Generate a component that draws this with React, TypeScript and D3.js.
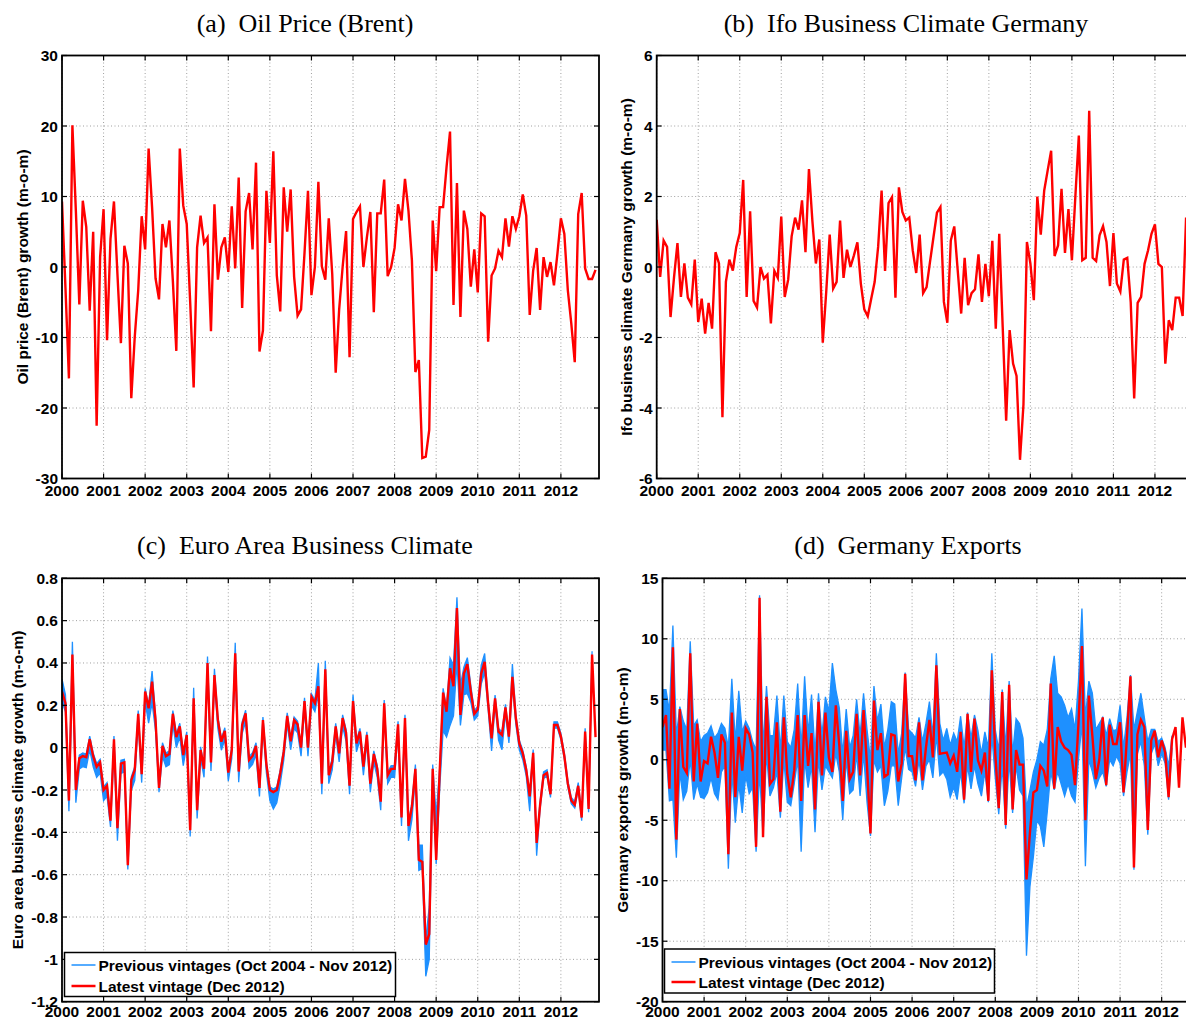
import React from 'react';
import * as d3 from 'd3';

// ---------- tick labels ----------
const yearTicks = [2000, 2001, 2002, 2003, 2004, 2005, 2006, 2007, 2008, 2009, 2010, 2011, 2012];
const oilTicks = [30, 20, 10, 0, -10, -20, -30];
const ifoTicks = [6, 4, 2, 0, -2, -4, -6];
const euroTicks = [0.8, 0.6, 0.4, 0.2, 0, -0.2, -0.4, -0.6, -0.8, -1, -1.2];
const exportsTicks = [15, 10, 5, 0, -5, -10, -15, -20];

// ---------- data (monthly, starting Jan 2000) ----------
const oilGrowth = [
  9.3, -3, -15.8, 20.1, 8, -5.3, 9.4, 5.7, -6.2, 5.0, -22.5, 1.4,
  8.2, -10.4, 4.0, 9.3, -1, -10.8, 3.0, 0.5, -18.6, -9.9, -3.3, 7.2,
  2.5, 16.8, 8.5, -1.6, -4.6, 6.1, 2.8, 6.6, -2, -11.9, 16.8, 8.7,
  6.1, -5, -17.1, 2.8, 7.3, 3.4, 4.2, -9.1, 8.9, -1.8, 2.8, 4.2,
  -0.7, 8.6, -0.2, 12.7, -5.8, 7.9, 10.5, 2.5, 14.8, -12.0, -9.0, 10.8,
  3.4, 16.4, -1.2, -6.3, 11.3, 5.0, 11.0, -1.4, -6.9, -6.0, 2, 10.8,
  -4.0, 0, 12.1, 0.1, -1.8, 6.9, -1, -15.0, -6, 0, 5.1, -12.8,
  6.8, 7.8, 8.6, 0, 4.2, 7.8, -6.4, 7.6, 7.6, 12.4, -1.3, 0.0,
  2.7, 8.9, 6.6, 12.5, 8.0, 0.9, -14.9, -13.2, -27.1, -26.9, -23.1, 6.6,
  -0.6, 8.5, 8.5, 14.2, 19.2, -5.4, 11.9, -7.1, 8.0, 5.4, -2.8, 2.5,
  -3.6, 7.6, 7.2, -10.6, -1.2, -0.2, 2.3, 1.4, 6.9, 2.9, 7.2, 5.4,
  7.2, 10.3, 7.3, -6.8, -0.5, 2.7, -6.1, 1.4, -1.4, 0.7, -2.6, 1.9,
  6.9, 4.7, -3.3, -8.0, -13.5, 7.5, 10.5, -0.2, -1.7, -1.7, -0.4,
];

const ifoGrowth = [
  1.34, -0.28, 0.75, 0.57, -1.42, -0.3, 0.68, -0.85, 0.1, -0.87, -1.06, 0.21,
  -1.56, -0.9, -1.89, -1.02, -1.75, 0.42, 0.1, -4.26, -0.42, 0.21, -0.1, 0.57,
  0.96, 2.47, -0.85, 1.58, -0.96, -1.15, 0.0, -0.33, -0.22, -1.6, -0.11, -0.31,
  1.43, -0.85, -0.36, 0.87, 1.4, 1.06, 1.89, 0.42, 2.78, 1.3, 0.1, 0.78,
  -2.15, -0.7, 0.92, -0.61, -0.42, 1.32, -0.31, 0.49, 0.0, 0.33, 0.7, -0.47,
  -1.2, -1.4, -0.9, -0.42, 0.57, 2.17, -0.11, 1.81, 1.98, -0.87, 2.26, 1.56,
  1.32, 1.4, 0.47, -0.17, 0.92, -0.74, -0.57, 0.15, 0.85, 1.54, 1.7, -0.99,
  -1.58, 0.75, 1.15, -0.1, -1.32, 0.26, -1.08, -0.74, -0.63, 0.36, -0.99, 0.09,
  -0.83, 0.74, -1.75, 0.94, -1.7, -4.36, -1.79, -2.74, -3.09, -5.47, -3.9, 0.71,
  0.1, -0.94, 2.0, 0.92, 2.17, 2.74, 3.3, 0.31, 0.61, 2.22, 0.4, 1.64,
  0.19, 2.0, 3.73, 0.19, 0.26, 4.43, 0.26, 0.17, 0.9, 1.16, 0.71, -0.54,
  0.96, -0.47, -0.7, 0.21, 0.26, -1.0, -3.73, -1.02, -0.85, 0.09, 0.47, 0.94,
  1.21, 0.09, 0.0, -2.74, -1.51, -1.79, -0.87, -0.87, -1.39, 1.4, 0.9,
];

const euroLatest = [
  0.265, 0.21, -0.25, 0.44, -0.2, -0.05, -0.04, -0.045, 0.04, -0.04, -0.09, -0.07,
  -0.2, -0.18, -0.345, 0.04, -0.38, -0.075, -0.07, -0.555, -0.153, -0.105, 0.16, -0.125,
  0.265, 0.186, 0.312, 0.13, -0.19, 0.008, -0.04, -0.03, 0.16, 0.05, 0.1, -0.035,
  0.06, -0.39, 0.233, -0.295, -0.011, -0.1, 0.4, -0.07, 0.343, 0.13, 0.028, 0.079,
  -0.118, -0.011, 0.446, -0.113, 0.107, 0.162, -0.058, -0.039, 0.008, -0.19, 0.13, -0.08,
  -0.2, -0.21, -0.2, -0.12, -0.02, 0.15, 0.03, 0.13, 0.11, 0.0, 0.22, 0.0,
  0.24, 0.21, 0.29, -0.17, 0.37, -0.13, -0.065, 0.1, -0.027, 0.14, 0.07, -0.18,
  0.22, 0.02, 0.076, -0.09, 0.06, -0.17, -0.03, -0.1, -0.255, 0.21, -0.13, -0.1,
  -0.1, 0.11, -0.33, 0.14, -0.37, -0.28, -0.1, -0.53, -0.54, -0.93, -0.88, -0.1,
  -0.53, -0.12, 0.26, 0.17, 0.375, 0.29, 0.66, 0.155, 0.35, 0.395, 0.265, 0.16,
  0.18, 0.35, 0.405, 0.21, 0.044, 0.233, 0.076, 0.06, 0.19, 0.052, 0.335, 0.14,
  0.02, -0.027, -0.105, -0.23, -0.024, -0.45, -0.27, -0.13, -0.12, -0.22, 0.107, 0.107,
  0.052, -0.04, -0.17, -0.25, -0.27, -0.18, -0.33, 0.076, -0.29, 0.44, 0.05,
];

// spread of the previous vintages below / above the latest vintage
const euroVintBelow = [
  0.05, 0.04, 0.05, 0.10, 0.06, 0.05, 0.05, 0.05, 0.05, 0.05,
  0.05, 0.05, 0.05, 0.05, 0.03, 0.05, 0.06, 0.05, 0.04, 0.02,
  0.05, 0.05, 0.04, 0.04, 0.05, 0.07, 0.10, 0.05, 0.02, 0.05,
  0.05, 0.05, 0.05, 0.05, 0.05, 0.05, 0.05, 0.03, 0.05, 0.04,
  0.04, 0.04, 0.04, 0.04, 0.04, 0.04, 0.04, 0.04, 0.04, 0.04,
  0.05, 0.05, 0.04, 0.04, 0.04, 0.04, 0.04, 0.04, 0.04, 0.04,
  0.05, 0.08, 0.06, 0.05, 0.04, 0.04, 0.04, 0.04, 0.04, 0.04,
  0.04, 0.04, 0.04, 0.04, 0.04, 0.05, 0.05, 0.04, 0.04, 0.04,
  0.04, 0.04, 0.04, 0.04, 0.04, 0.04, 0.04, 0.04, 0.04, 0.04,
  0.04, 0.04, 0.04, 0.04, 0.04, 0.04, 0.04, 0.04, 0.04, 0.04,
  0.07, 0.06, 0.04, 0.05, 0.03, 0.15, 0.12, 0.05, 0.02, 0.08,
  0.18, 0.12, 0.27, 0.14, 0.26, 0.05, 0.10, 0.14, 0.05, 0.03,
  0.03, 0.05, 0.05, 0.03, 0.06, 0.03, 0.04, 0.07, 0.03, 0.03,
  0.04, 0.03, 0.03, 0.03, 0.03, 0.07, 0.02, 0.06, 0.02, 0.015,
  0.015, 0.015, 0.015, 0.015, 0.015, 0.015, 0.015, 0.015, 0.015, 0.015,
  0.015, 0.015, 0.015, 0.015,
];
const euroVintAbove = [
  0.06, 0.04, 0.02, 0.06, 0.02, 0.015, 0.015, 0.015, 0.015, 0.015,
  0.015, 0.015, 0.015, 0.015, 0.015, 0.015, 0.015, 0.015, 0.015, 0.015,
  0.015, 0.015, 0.015, 0.015, 0.015, 0.015, 0.05, 0.02, 0.015, 0.015,
  0.015, 0.015, 0.015, 0.015, 0.015, 0.015, 0.015, 0.015, 0.05, 0.015,
  0.015, 0.015, 0.03, 0.015, 0.03, 0.015, 0.015, 0.015, 0.015, 0.015,
  0.05, 0.015, 0.015, 0.015, 0.015, 0.015, 0.015, 0.015, 0.015, 0.015,
  0.015, 0.015, 0.015, 0.015, 0.015, 0.015, 0.015, 0.015, 0.015, 0.015,
  0.015, 0.015, 0.015, 0.015, 0.11, 0.015, 0.04, 0.015, 0.015, 0.015,
  0.015, 0.015, 0.015, 0.015, 0.03, 0.015, 0.015, 0.015, 0.015, 0.015,
  0.015, 0.015, 0.015, 0.015, 0.015, 0.015, 0.015, 0.015, 0.015, 0.015,
  0.02, 0.02, 0.02, 0.07, 0.08, 0.02, 0.13, 0.02, 0.21, 0.02,
  0.02, 0.02, 0.05, 0.10, 0.05, 0.14, 0.03, 0.03, 0.03, 0.015,
  0.015, 0.04, 0.04, 0.015, 0.015, 0.015, 0.015, 0.015, 0.015, 0.015,
  0.06, 0.015, 0.015, 0.015, 0.015, 0.015, 0.015, 0.015, 0.015, 0.015,
  0.015, 0.015, 0.015, 0.015, 0.015, 0.015, 0.015, 0.015, 0.015, 0.015,
  0.015, 0.015, 0.015, 0.015,
];

const exportsLatest = [
  2.7, 3.7, -2.4, 9.3, -6.6, 4.2, -0.6, -1.1, 8.8, -1.8, 3.0, -1.8,
  -0.1, -0.3, 1.9, 0.6, -1.5, 2.1, 1.4, -7.8, 3.9, -3.1, 1.9, -0.9,
  2.6, 2.1, 0.6, -7.2, 13.4, -6.4, 5.2, -2.0, -1.6, 3.1, -4.3, 3.5,
  -1.2, -3.1, -0.9, 3.7, -3.4, 3.7, -0.5, 2.2, -4.1, 4.8, -1.3, 3.9,
  0.2, -1.0, 4.5, 1.2, -3.4, 2.4, -1.6, -1.0, 3.8, -1.3, 4.1, -0.5,
  -6.1, 4.9, 0.8, 2.2, -1.4, -1.2, 2.1, 2.0, -1.8, -0.3, 7.1, 0.3,
  0.3, -1.7, 3.1, -1.7, 1.0, 3.3, 0.2, 7.8, 0.5, 0.55, 0.6, -0.3,
  0.35, -1.0, 2.3, -3.3, 3.8, -1.0, 3.4, -0.05, -0.9, 0.6, -3.4, 7.4,
  0.5, -4.0, 5.6, -5.4, 6.2, -4.1, 0.8, -0.4, -0.4, -9.9, -6.0, -2.7,
  -2.5, -0.5, -0.9, -2.2, 6.3, -2.4, 2.7, 1.5, 1.0, 0.8, 0.4, -2.1,
  3.0, 9.4, -5.0, 5.3, 2.0, -1.6, 0.0, 3.5, -2.1, 2.9, 1.3, 1.3,
  3.1, -2.7, 2.0, 6.9, -8.9, 2.1, 3.3, 2.7, -5.8, 1.6, 2.4, 0.2,
  1.6, 0.6, -3.1, 1.7, 2.7, -2.3, 3.5, 1.0,
];

// envelope of the previous vintages (Oct 2004 - Nov 2012)
const exportsVintHi = [
  5.8, 5.8, 4.0, 11.1, 2.0, 4.4, 3.2, 2.5, 9.8, 2.8, 3.3, 1.5,
  2.0, 2.2, 2.8, 1.8, 2.2, 3.0, 2.6, 1.0, 6.7, 1.5, 5.7, 2.3,
  3.2, 2.6, 1.5, 0.8, 13.6, 1.0, 6.1, 2.0, 2.0, 5.3, 0.8, 5.3,
  1.5, 1.0, 2.5, 6.3, 1.0, 6.9, 2.2, 5.4, 0.5, 5.5, 2.0, 5.2,
  4.0, 8.0, 5.8, 4.3, 0.5, 4.2, 1.0, 2.0, 5.0, 2.0, 5.5, 2.5,
  0.0, 6.1, 3.2, 4.6, 1.0, 2.5, 4.8, 4.6, 0.5, 2.2, 7.2, 2.5,
  2.2, 1.8, 3.5, 1.5, 3.0, 4.8, 2.0, 8.8, 3.0, 1.6, 2.6, 1.2,
  2.2, 1.5, 3.6, 1.0, 3.9, 1.8, 3.7, 2.4, 0.5, 2.3, 1.0, 8.8,
  2.5, 0.8, 5.8, 1.0, 6.5, 0.5, 3.4, 3.0, 1.8, -4.0, -2.5, -1.0,
  0.0, 1.5, 1.2, 2.5, 6.7, 8.6, 5.5, 5.2, 4.5, 3.5, 4.2, 2.5,
  6.5, 12.5, 3.5, 6.5, 5.5, 2.5, 3.0, 3.5, 2.0, 3.4, 2.4, 2.5,
  4.5, 1.0, 3.5, 7.0, 2.5, 4.0, 5.5, 3.5, 1.5, 2.5, 2.5, 1.5,
  1.8, 1.0, -0.5, 2.0,
];
const exportsVintLo = [
  0.8, 0.8, -3.4, -3.3, -8.1, -1.0, -3.3, -2.6, 0.0, -3.3, -2.0, -3.1,
  -3.2, -2.7, -1.5, -2.8, -3.3, -1.0, -0.5, -9.0, -1.0, -5.2, -2.0, -4.4,
  -1.3, -2.8, -2.3, -7.6, -1.0, -6.3, 0.5, -3.0, -2.3, -1.0, -4.8, 0.0,
  -3.5, -3.8, -2.0, 0.0, -7.6, 0.0, -2.3, -0.5, -6.0, 0.0, -2.5, -0.5,
  -1.0, -1.5, 0.5, -1.0, -5.0, 0.0, -2.8, -2.5, 0.5, -3.0, 0.5, -3.5,
  -6.3, 0.0, -1.0, -0.5, -3.8, -2.6, -0.5, -0.5, -3.8, -1.5, 1.0, -0.8,
  -1.0, -2.2, 0.0, -2.5, -0.5, 0.0, -1.5, 2.0, -1.3, -1.0, -1.6, -3.1,
  -2.3, -3.3, -1.0, -3.6, -0.5, -2.4, -0.5, -2.0, -3.0, -1.0, -3.5, 2.0,
  -1.5, -4.5, -0.5, -5.7, 0.0, -4.4, -0.5, -2.5, -3.0, -16.2, -10.5, -8.0,
  -5.0, -5.5, -7.2, -4.3, -1.0, -2.5, -1.0, -2.0, -3.0, -2.0, -3.0, -3.5,
  0.0, 3.0, -8.8, 0.0, -1.0, -2.3, -1.5, -1.0, -2.2, 0.0, -0.5, 0.3,
  -0.3, -3.0, -1.0, 0.5, -9.1, 0.5, 1.5, -0.5, -6.2, 0.5, 1.3, -0.5,
  0.5, -0.3, -3.3, 1.0,
];

const RED = '#ff0000';
const BLUE = '#1e90ff';
const SANS = '"Liberation Sans", Arial, Helvetica, sans-serif';
const SERIF = '"Liberation Serif", "Times New Roman", serif';
const FS = 15.5;

type Band = { lo: number[]; hi: number[] };
type Legend = { x: number; y: number; w: number; h: number; row1: number; row2: number };

type PanelProps = {
  id: string;
  x0: number;
  x1: number;
  yTop: number;
  yBot: number;
  yDomain: [number, number];
  yTicks: number[];
  fmt: (v: number) => string;
  latest: number[];
  band?: Band;
  ylabel: string;
  ylabelX: number;
  xLabelY: number;
  title: string;
  titleX: number;
  titleY: number;
  legend?: Legend;
};

const monthToYear = (i: number) => 2000 + i / 12;

function Panel(p: PanelProps) {
  const x = d3.scaleLinear().domain([2000, 2000 + 155 / 12]).range([p.x0, p.x1]);
  const y = d3.scaleLinear().domain(p.yDomain).range([p.yBot, p.yTop]);
  const line = d3
    .line<number>()
    .x((_, i) => x(monthToYear(i)))
    .y((d) => y(d));
  let bandArea: string | null = null;
  let loPath: string | null = null;
  let hiPath: string | null = null;
  if (p.band) {
    const n = Math.min(p.band.lo.length, p.band.hi.length);
    const idx = d3.range(n);
    bandArea = d3
      .area<number>()
      .x((i) => x(monthToYear(i)))
      .y0((i) => y(p.band!.lo[i]))
      .y1((i) => y(p.band!.hi[i]))(idx);
    loPath = line(p.band.lo.slice(0, n));
    hiPath = line(p.band.hi.slice(0, n));
  }
  const clipId = `clip-${p.id}`;
  const tickLen = 5;
  const midY = (p.yTop + p.yBot) / 2;
  return (
    <g>
      <defs>
        <clipPath id={clipId}>
          <rect x={p.x0} y={p.yTop} width={p.x1 - p.x0} height={p.yBot - p.yTop} />
        </clipPath>
      </defs>
      <rect x={p.x0} y={p.yTop} width={p.x1 - p.x0} height={p.yBot - p.yTop} fill="#fff" />
      {/* grid */}
      <g stroke="#a0a0a0" strokeWidth={1} strokeDasharray="1,2.5">
        {yearTicks.map((yr) => (
          <line key={`gx${yr}`} x1={x(yr)} x2={x(yr)} y1={p.yTop} y2={p.yBot} />
        ))}
        {p.yTicks.map((t) => (
          <line key={`gy${t}`} x1={p.x0} x2={p.x1} y1={y(t)} y2={y(t)} />
        ))}
      </g>
      <g clipPath={`url(#${clipId})`}>
        {bandArea && <path d={bandArea} fill={BLUE} stroke="none" />}
        {loPath && <path d={loPath} fill="none" stroke={BLUE} strokeWidth={1.3} />}
        {hiPath && <path d={hiPath} fill="none" stroke={BLUE} strokeWidth={1.3} />}
        <path d={line(p.latest) || ''} fill="none" stroke={RED} strokeWidth={2.4} strokeLinejoin="miter" />
      </g>
      {/* axes box */}
      <rect x={p.x0} y={p.yTop} width={p.x1 - p.x0} height={p.yBot - p.yTop} fill="none" stroke="#000" strokeWidth={1.8} />
      {/* ticks */}
      <g stroke="#000" strokeWidth={1.2}>
        {yearTicks.map((yr) => (
          <g key={`tx${yr}`}>
            <line x1={x(yr)} x2={x(yr)} y1={p.yBot} y2={p.yBot - tickLen} />
            <line x1={x(yr)} x2={x(yr)} y1={p.yTop} y2={p.yTop + tickLen} />
          </g>
        ))}
        {p.yTicks.map((t) => (
          <g key={`ty${t}`}>
            <line x1={p.x0} x2={p.x0 + tickLen} y1={y(t)} y2={y(t)} />
            <line x1={p.x1} x2={p.x1 - tickLen} y1={y(t)} y2={y(t)} />
          </g>
        ))}
      </g>
      {/* tick labels */}
      <g fontFamily={SANS} fontWeight="bold" fontSize={FS} fill="#000">
        {yearTicks.map((yr) => (
          <text key={`lx${yr}`} x={x(yr)} y={p.xLabelY} textAnchor="middle">
            {String(yr)}
          </text>
        ))}
        {p.yTicks.map((t) => (
          <text key={`ly${t}`} x={p.x0 - 4} y={y(t) + 5.5} textAnchor="end">
            {p.fmt(t)}
          </text>
        ))}
        <text transform={`translate(${p.ylabelX},${midY}) rotate(-90)`} textAnchor="middle">
          {p.ylabel}
        </text>
      </g>
      {/* title */}
      <text x={p.titleX} y={p.titleY} textAnchor="middle" fontFamily={SERIF} fontSize={26} fill="#000" style={{ whiteSpace: 'pre' }}>
        {p.title}
      </text>
      {/* legend */}
      {p.legend && (
        <g>
          <rect x={p.legend.x} y={p.legend.y} width={p.legend.w} height={p.legend.h} fill="#fff" stroke="#000" strokeWidth={1.5} />
          <line x1={p.legend.x + 7} x2={p.legend.x + 31} y1={p.legend.row1} y2={p.legend.row1} stroke={BLUE} strokeWidth={1.5} />
          <line x1={p.legend.x + 7} x2={p.legend.x + 31} y1={p.legend.row2} y2={p.legend.row2} stroke={RED} strokeWidth={2.5} />
          <g fontFamily={SANS} fontWeight="bold" fontSize={FS} fill="#000">
            <text x={p.legend.x + 34} y={p.legend.row1 + 5.5}>Previous vintages (Oct 2004 - Nov 2012)</text>
            <text x={p.legend.x + 34} y={p.legend.row2 + 5.5}>Latest vintage (Dec 2012)</text>
          </g>
        </g>
      )}
    </g>
  );
}

const fmtInt = (v: number) => String(v);
const fmtDec = (v: number) => String(Math.round(v * 10) / 10);

export default function App() {
  const euroBand: Band = {
    lo: euroVintBelow.map((d, i) => euroLatest[i] - d),
    hi: euroVintAbove.map((d, i) => euroLatest[i] + d),
  };
  const exportsBand: Band = { lo: exportsVintLo, hi: exportsVintHi };
  return (
    <svg
      width={1186}
      height={1021}
      viewBox="0 0 1186 1021"
      style={{ position: 'absolute', left: 0, top: 0, background: '#fff' }}
    >
      <rect x={0} y={0} width={1186} height={1021} fill="#fff" />
      <Panel
        id="a"
        x0={62}
        x1={599}
        yTop={55.5}
        yBot={478.5}
        yDomain={[-30, 30]}
        yTicks={oilTicks}
        fmt={fmtInt}
        latest={oilGrowth}
        ylabel="Oil price (Brent) growth (m-o-m)"
        ylabelX={28}
        xLabelY={495.5}
        title="(a)  Oil Price (Brent)"
        titleX={305}
        titleY={32}
      />
      <Panel
        id="b"
        x0={656.7}
        x1={1193}
        yTop={55.5}
        yBot={478.5}
        yDomain={[-6, 6]}
        yTicks={ifoTicks}
        fmt={fmtInt}
        latest={ifoGrowth}
        ylabel="Ifo business climate Germany growth (m-o-m)"
        ylabelX={632}
        xLabelY={495.5}
        title="(b)  Ifo Business Climate Germany"
        titleX={906}
        titleY={32}
      />
      <Panel
        id="c"
        x0={62}
        x1={599}
        yTop={578.3}
        yBot={1001.7}
        yDomain={[-1.2, 0.8]}
        yTicks={euroTicks}
        fmt={fmtDec}
        latest={euroLatest}
        band={euroBand}
        ylabel="Euro area business climate growth (m-o-m)"
        ylabelX={23}
        xLabelY={1016.5}
        title="(c)  Euro Area Business Climate"
        titleX={305}
        titleY={554}
        legend={{ x: 64.5, y: 952.5, w: 331, h: 44, row1: 965, row2: 986 }}
      />
      <Panel
        id="d"
        x0={662.5}
        x1={1199.8}
        yTop={578.3}
        yBot={1001.7}
        yDomain={[-20, 15]}
        yTicks={exportsTicks}
        fmt={fmtInt}
        latest={exportsLatest}
        band={exportsBand}
        ylabel="Germany exports growth (m-o-m)"
        ylabelX={628}
        xLabelY={1016.5}
        title="(d)  Germany Exports"
        titleX={908}
        titleY={554}
        legend={{ x: 664.5, y: 949, w: 330, h: 44, row1: 962, row2: 982 }}
      />
    </svg>
  );
}
